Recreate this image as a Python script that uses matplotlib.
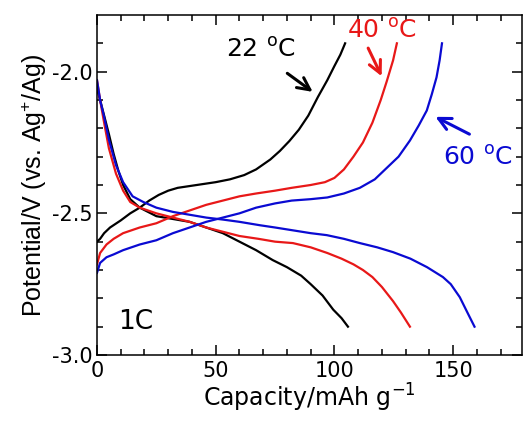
import matplotlib
matplotlib.use("Agg")
import matplotlib.pyplot as plt

plt.rcParams['font.family'] = ['DejaVu Sans']
plt.rcParams['mathtext.default'] = 'regular'

# ---- data (capacity mAh/g, potential V vs Ag+/Ag) ----
black_ch_x = [0, 1.3, 3, 5.5, 10, 14, 18, 22, 26, 30, 34, 42, 50, 56, 62, 67, 73, 77, 81, 85, 89, 93,
              97, 100, 102.5, 104.5]
black_ch_y = [-2.60, -2.59, -2.57, -2.55, -2.525, -2.50, -2.48, -2.455, -2.435, -2.42, -2.41, -2.40,
              -2.39, -2.38, -2.365, -2.345, -2.31, -2.28, -2.245, -2.205, -2.155, -2.09, -2.03, -1.98,
              -1.94, -1.90]
black_dis_x = [0, 1.3, 3, 5, 7, 9, 11, 14, 18, 25, 32, 39, 46, 53, 60, 67, 74, 80, 86, 90, 95, 99.5, 103, 105.7]
black_dis_y = [-2.06, -2.10, -2.155, -2.22, -2.29, -2.35, -2.40, -2.45, -2.48, -2.51, -2.52, -2.53, -2.55,
               -2.57, -2.60, -2.63, -2.665, -2.69, -2.72, -2.75, -2.79, -2.84, -2.87, -2.90]

red_ch_x = [0, 1.3, 4, 7, 11, 18, 25, 32, 39, 46, 53, 60, 67, 75, 82, 90, 96, 100, 104, 108, 112, 116,
            119.5, 122, 124.7, 126.3]
red_ch_y = [-2.68, -2.64, -2.61, -2.59, -2.57, -2.55, -2.535, -2.51, -2.49, -2.47, -2.455, -2.44, -2.43,
            -2.42, -2.41, -2.40, -2.39, -2.375, -2.345, -2.30, -2.25, -2.18, -2.10, -2.035, -1.96, -1.90]
red_dis_x = [0, 1.3, 3, 5, 8, 11, 14, 18, 25, 32, 39, 46, 53, 60, 68, 75, 82.5, 90, 97, 103, 108, 112,
             116, 120, 124.7, 128, 131.8]
red_dis_y = [-2.03, -2.10, -2.18, -2.27, -2.36, -2.42, -2.46, -2.48, -2.50, -2.515, -2.53, -2.55, -2.565,
             -2.58, -2.59, -2.60, -2.605, -2.62, -2.64, -2.66, -2.68, -2.70, -2.725, -2.76, -2.81, -2.85, -2.90]

blue_ch_x = [0, 1.3, 4, 7, 11, 18, 25, 32, 39, 46, 53, 60, 67, 75, 82, 90, 97, 104, 110.7, 117, 122,
             127, 131.8, 135.5, 138.9, 141, 143, 144.3, 145.3]
blue_ch_y = [-2.71, -2.675, -2.655, -2.645, -2.63, -2.61, -2.595, -2.57, -2.55, -2.53, -2.515, -2.50,
             -2.48, -2.465, -2.455, -2.45, -2.444, -2.43, -2.41, -2.38, -2.34, -2.30, -2.243, -2.19,
             -2.137, -2.08, -2.02, -1.96, -1.90]
blue_dis_x = [0, 1.3, 3, 5, 8, 11, 15, 19.5, 25, 32, 39, 46, 53, 60, 68.6, 75, 82.5, 90, 96.8, 104,
              110.7, 118, 124.7, 132, 139, 145.7, 149, 152.8, 156, 159]
blue_dis_y = [-2.03, -2.10, -2.16, -2.24, -2.33, -2.39, -2.44, -2.46, -2.48, -2.495, -2.505, -2.515,
              -2.522, -2.53, -2.542, -2.55, -2.56, -2.57, -2.577, -2.59, -2.605, -2.62, -2.637, -2.66,
              -2.69, -2.725, -2.75, -2.796, -2.85, -2.90]

x_major = [0, 50, 100, 150]
y_major = [-3.0, -2.5, -2.0]
y_major_labels = ['-3.0', '-2.5', '-2.0']

BLACK = '#000000'
RED = '#e81818'
BLUE = '#0a0ad2'

fig = plt.figure(figsize=(5.23, 4.21), dpi=100)
ax = fig.add_axes([97 / 523, 1 - 355 / 421, (522 - 97) / 523, (355 - 15) / 421])

lw = 1.6
ax.plot(black_ch_x, black_ch_y, color=BLACK, lw=lw)
ax.plot(black_dis_x, black_dis_y, color=BLACK, lw=lw)
ax.plot(red_ch_x, red_ch_y, color=RED, lw=lw)
ax.plot(red_dis_x, red_dis_y, color=RED, lw=lw)
ax.plot(blue_ch_x, blue_ch_y, color=BLUE, lw=lw)
ax.plot(blue_dis_x, blue_dis_y, color=BLUE, lw=lw)

ax.set_xlim(0, 179)
ax.set_ylim(-3.0, -1.8)
ax.set_xticks(x_major)
ax.set_xticks(range(0, 180, 10), minor=True)
ax.set_yticks(y_major)
ax.set_yticklabels(y_major_labels)
ax.set_yticks([-3.0 + 0.1 * i for i in range(12)], minor=True)
ax.tick_params(which='both', direction='in', top=True, right=True, width=1.1, labelsize=15, pad=3)
ax.tick_params(axis='x', which='both', pad=4)
ax.tick_params(which='major', length=7.5)
ax.tick_params(which='minor', length=4)
for s in ax.spines.values():
    s.set_linewidth(1.1)

ax.set_xlabel(r'Capacity/mAh g$^{-1}$', fontsize=17, labelpad=1)
ax.set_ylabel(r'Potential/V (vs. Ag$^{+}$/Ag)', fontsize=18, labelpad=2,
              family=['Liberation Sans', 'DejaVu Sans'])

fs = 18
deg = r'$^{o}$C'
ax.text(69, -1.923, '22 ' + deg, color=BLACK, fontsize=fs, ha='center', va='center')
ax.text(120, -1.856, '40 ' + deg, color=RED, fontsize=fs, ha='center', va='center')
ax.text(160.4, -2.303, '60 ' + deg, color=BLUE, fontsize=fs, ha='center', va='center')
ax.text(8.8, -2.884, '1C', color=BLACK, fontsize=19, ha='left', va='center')

arrow_kw = dict(arrowstyle='->', lw=2.2, mutation_scale=22)
ax.annotate('', xy=(91.8, -2.077), xytext=(79.2, -2.0), arrowprops=dict(color=BLACK, **arrow_kw))
ax.annotate('', xy=(120.4, -2.025), xytext=(113.7, -1.908), arrowprops=dict(color=RED, **arrow_kw))
ax.annotate('', xy=(141.5, -2.155), xytext=(157.9, -2.225), arrowprops=dict(color=BLUE, **arrow_kw))

fig.savefig('out.png', dpi=100)
